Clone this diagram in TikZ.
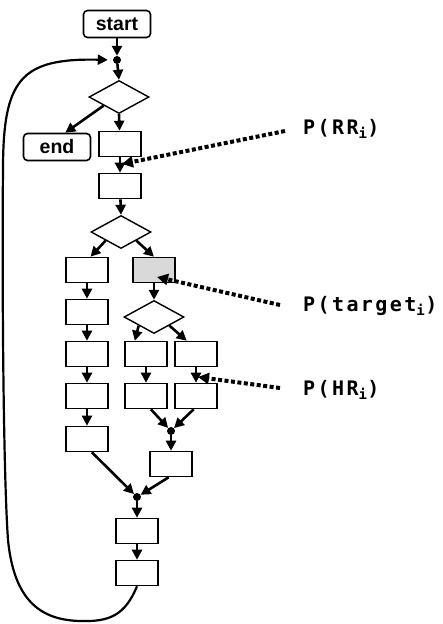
\documentclass[tikz,border=0pt]{standalone}
\usepackage{fontspec}
\setsansfont{Liberation Sans}
\newfontfamily\probfont[LetterSpace=12]{DejaVu Sans Mono}
\usepackage{xcolor}
\usepackage{tikz}
\usetikzlibrary{arrows.meta,shapes.geometric}
\definecolor{boxgray}{RGB}{217,217,217}
\tikzset{box/.style={draw, line width=1.6pt, minimum width=42pt,
  minimum height=25pt, inner sep=0pt}}
\tikzset{term/.style={box, rounded corners=4pt, minimum width=67pt,
  minimum height=27pt, font=\sffamily\bfseries\fontsize{19.5}{19.5}\selectfont}}
\tikzset{cond/.style={diamond, draw, line width=1.4pt, minimum width=60pt,
  minimum height=33pt, inner sep=0pt}}
\tikzset{joindot/.style={circle, fill, inner sep=0pt, minimum size=8pt}}
\tikzset{flow/.style={line width=2.6pt, -{Triangle[length=10pt,width=10pt]}}}
\tikzset{prob/.style={line width=4pt, dash pattern=on 4pt off 2.5pt,
  -{Triangle[length=11pt,width=11pt]}}}
\tikzset{plabel/.style={anchor=west, inner sep=0pt,
  font=\probfont\bfseries\fontsize{20}{20}\selectfont}}

\begin{document}
\begin{tikzpicture}[x=1pt, y=-1pt]
\useasboundingbox (0,0) rectangle (443,624);

\node[term] (start) at (117,24) {start};
\node[joindot] (j1) at (117,60) {};
\node[cond] (d1) at (119,97) {};
\node[term] (end) at (57,147) {end};
\node[box] (b1) at (120,144) {};
\node[box] (b2) at (120,186) {};

\node[cond] (d2) at (121,232) {};
\node[box] (l1) at (87,270) {};
\node[box] (l2) at (87,312) {};
\node[box] (l3) at (87,354) {};
\node[box] (l4) at (87,396) {};
\node[box] (l5) at (87,439) {};
\node[box, fill=boxgray] (tg) at (154,270) {};

\node[cond] (d3) at (154,317) {};
\node[box] (m1) at (146,354) {};
\node[box] (m2) at (146,396) {};
\node[box] (r1) at (196,354) {};
\node[box] (r2) at (196,396) {};
\node[joindot] (j2) at (171,431) {};
\node[box] (jb) at (171,464) {};
\node[joindot] (j3) at (137,497) {};
\node[box] (k1) at (137,531) {};
\node[box] (k2) at (137,573) {};

\node[plabel] (rr) at (303,129) {P(RR\textsubscript{i})};
\node[plabel] (tgt) at (303,306) {P(target\textsubscript{i})};
\node[plabel] (hr) at (303,390) {P(HR\textsubscript{i})};
\coordinate (rrs) at (285,131);
\coordinate (rrtip) at (122,164);
\coordinate (tgs) at (280,305);
\coordinate (tgtip) at (157,277);
\coordinate (hrs) at (280,388);
\coordinate (hrtip) at (198,377);

\draw[flow] (start) -- (j1);
\draw[flow] (j1) -- (d1.north);
\draw[flow] (d1.south west) -- (end.60);
\draw[flow] (d1.south) -- (b1);
\draw[flow] (b1) -- (b2);
\draw[flow] (b2) -- (d2.north);
\draw[flow] (d2.south west) -- (l1.75);
\draw[flow] (d2.south east) -- (tg.north);
\draw[flow] (l1) -- (l2);
\draw[flow] (l2) -- (l3);
\draw[flow] (l3) -- (l4);
\draw[flow] (l4) -- (l5);
\draw[flow] (tg) -- (d3.north);
\draw[flow] (d3.south west) -- (m1.130);
\draw[flow] (d3.south east) -- (r1.125);
\draw[flow] (m1) -- (m2);
\draw[flow] (r1) -- (r2);
\draw[flow] (m2.-70) -- (j2);
\draw[flow] (r2.-100) -- (j2);
\draw[flow] (j2) -- (jb);
\draw[flow] (l5.-70) -- (j3);
\draw[flow] (jb.-100) -- (j3);
\draw[flow] (j3) -- (k1);
\draw[flow] (k1) -- (k2);

\draw[line width=2.2pt, -{Triangle[length=10pt,width=10pt]}, shorten >=5pt]
  (k2.south) .. controls (125,615) and (110,622) .. (80,621)
  .. controls (40,620) and (14,600) .. (8,540)
  .. controls (3,470) and (2,260) .. (3,170)
  .. controls (3,80) and (20,58) .. (j1.west);

\draw[prob] (rrs) -- (rrtip);
\draw[prob] (tgs) -- (tgtip);
\draw[prob] (hrs) -- (hrtip);

\end{tikzpicture}
\end{document}
